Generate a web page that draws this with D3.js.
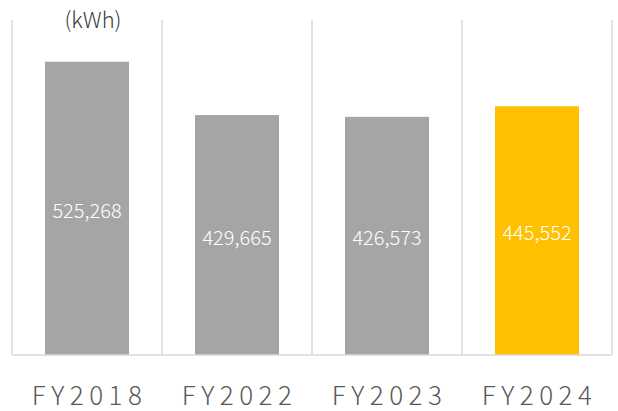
<!DOCTYPE html>
<html>
<head>
<meta charset="utf-8">
<script src="https://cdn.jsdelivr.net/npm/d3@7"></script>
<style>
  body { margin: 0; background: #fff; }
  text { font-family: "Noto Sans CJK JP", "Noto Sans", sans-serif; }
</style>
</head>
<body>
<div id="canvas"></div>
<script>
"use strict";

/* Data */
let years = ["FY2018", "FY2022", "FY2023", "FY2024"];
let usage = [525268, 429665, 426573, 445552];
let barColors = ["#A5A5A5", "#A5A5A5", "#A5A5A5", "#FFC000"];
let unitLabel = "(kWh)";

/* Drawing config */
let svgWidth = 618;
let svgHeight = 411;
let plotLeft = 12, plotRight = 612, plotTop = 20, plotBottom = 355;

let svg = d3.select("#canvas")
  .append("svg")
  .attr("width", svgWidth)
  .attr("height", svgHeight);

let xScale = d3.scaleBand()
  .domain(years)
  .range([plotLeft, plotRight])
  .paddingInner(0.44)
  .paddingOuter(0.22);

let yScale = d3.scaleLinear()
  .domain([0, 600000])
  .range([plotBottom, plotTop]);

/* category separators */
let bounds = d3.range(years.length + 1).map(function (i) {
  return plotLeft + i * (plotRight - plotLeft) / years.length;
});
svg.selectAll("line.sep")
  .data(bounds)
  .enter()
  .append("line")
  .attr("class", "sep")
  .attr("x1", function (d) { return d; })
  .attr("x2", function (d) { return d; })
  .attr("y1", plotTop)
  .attr("y2", plotBottom)
  .attr("stroke", "#D9D9D9")
  .attr("stroke-width", 1.5);

/* bars */
svg.selectAll("rect.bar")
  .data(usage)
  .enter()
  .append("rect")
  .attr("class", "bar")
  .attr("x", function (d, i) { return xScale(years[i]); })
  .attr("y", function (d) { return yScale(d); })
  .attr("width", xScale.bandwidth())
  .attr("height", function (d) { return plotBottom - yScale(d); })
  .attr("fill", function (d, i) { return barColors[i]; });

/* baseline */
svg.append("line")
  .attr("x1", plotLeft)
  .attr("x2", plotRight)
  .attr("y1", plotBottom)
  .attr("y2", plotBottom)
  .attr("stroke", "#D9D9D9")
  .attr("stroke-width", 1.5);

/* value labels */
svg.selectAll("text.value")
  .data(usage)
  .enter()
  .append("text")
  .attr("class", "value")
  .attr("x", function (d, i) { return xScale(years[i]) + xScale.bandwidth() / 2; })
  .attr("y", function (d) { return (yScale(d) + plotBottom) / 2 + 1; })
  .attr("text-anchor", "middle")
  .attr("dominant-baseline", "central")
  .attr("font-size", "20px")
  .attr("font-weight", 300)
  .attr("fill", "#fff")
  .text(function (d) { return d3.format(",")(d); });

/* x axis labels */
let xAxis = d3.axisBottom(xScale).tickSize(0).tickPadding(0);
let gx = svg.append("g")
  .attr("transform", "translate(0," + plotBottom + ")")
  .call(xAxis);
gx.select(".domain").remove();
gx.selectAll("text")
  .attr("y", 50)
  .attr("dy", "0")
  .attr("dx", "2.5px")
  .attr("font-size", "26px")
  .attr("font-weight", 300)
  .attr("letter-spacing", "5.5px")
  .attr("fill", "#595959")
  .attr("font-family", "\"Noto Sans CJK JP\", sans-serif");

/* unit */
svg.append("text")
  .attr("x", 93)
  .attr("y", 28)
  .attr("text-anchor", "middle")
  .attr("font-size", "22px")
  .attr("font-weight", 300)
  .attr("fill", "#404040")
  .text(unitLabel);
</script>
</body>
</html>
